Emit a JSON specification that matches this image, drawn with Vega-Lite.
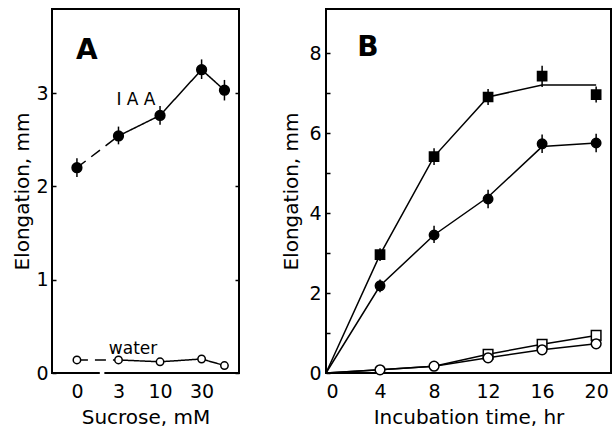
{
  "$schema": "https://vega.github.io/schema/vega-lite/v6.json",
  "padding": {"left": 11, "top": 8, "right": 0, "bottom": 0},
  "background": "white",
  "spacing": 87,
  "bounds": "flush",
  "resolve": {"scale": {"fill": "independent", "shape": "independent", "size": "independent", "strokeDash": "independent"}},
  "config": {
    "view": {"stroke": "black", "strokeWidth": 2},
    "font": "DejaVu Sans",
    "axis": {
      "domain": false,
      "grid": false,
      "labelFont": "DejaVu Sans",
      "labelFontSize": 19,
      "labelColor": "black",
      "titleFont": "DejaVu Sans",
      "titleFontSize": 20,
      "titleFontWeight": "normal",
      "titleColor": "black",
      "tickColor": "black",
      "tickWidth": 1.5
    }
  },
  "datasets": {
    "a_pts": [
      {"series": "IAA", "pos": 0, "conc": "0", "y": 2.2, "lo": 2.1, "hi": 2.3},
      {"series": "IAA", "pos": 1, "conc": "3", "y": 2.54, "lo": 2.45, "hi": 2.64},
      {"series": "IAA", "pos": 2, "conc": "10", "y": 2.76, "lo": 2.66, "hi": 2.86},
      {"series": "IAA", "pos": 3, "conc": "30", "y": 3.25, "lo": 3.15, "hi": 3.36},
      {"series": "IAA", "pos": 3.55, "conc": "100", "y": 3.03, "lo": 2.92, "hi": 3.14},
      {"series": "water", "pos": 0, "conc": "0", "y": 0.14},
      {"series": "water", "pos": 1, "conc": "3", "y": 0.14},
      {"series": "water", "pos": 2, "conc": "10", "y": 0.12},
      {"series": "water", "pos": 3, "conc": "30", "y": 0.15},
      {"series": "water", "pos": 3.55, "conc": "100", "y": 0.08}
    ],
    "a_lines": [
      {"series": "IAA", "style": "dashed", "pos": 0, "y": 2.2},
      {"series": "IAA", "style": "dashed", "pos": 1, "y": 2.54},
      {"series": "IAA", "style": "solid", "pos": 1, "y": 2.54},
      {"series": "IAA", "style": "solid", "pos": 2, "y": 2.76},
      {"series": "IAA", "style": "solid", "pos": 3, "y": 3.25},
      {"series": "IAA", "style": "solid", "pos": 3.55, "y": 3.03},
      {"series": "water", "style": "dashed", "pos": 0, "y": 0.14},
      {"series": "water", "style": "dashed", "pos": 1, "y": 0.14},
      {"series": "water", "style": "solid", "pos": 1, "y": 0.14},
      {"series": "water", "style": "solid", "pos": 2, "y": 0.12},
      {"series": "water", "style": "solid", "pos": 3, "y": 0.15},
      {"series": "water", "style": "solid", "pos": 3.55, "y": 0.08}
    ],
    "a_break": [
      {"x1": 0.55, "x2": 0.66, "y": 0}
    ],
    "a_panel": [
      {"label": "A", "x": 0.24, "y": 3.45}
    ],
    "a_series": [
      {"label": "I A A", "x": 1.42, "y": 2.92},
      {"label": "water", "x": 1.35, "y": 0.26}
    ],
    "b_pts": [
      {"series": "sq_filled", "t": 4, "y": 2.96, "lo": 2.8, "hi": 3.12},
      {"series": "sq_filled", "t": 8, "y": 5.41, "lo": 5.2, "hi": 5.62},
      {"series": "sq_filled", "t": 12, "y": 6.9, "lo": 6.7, "hi": 7.1},
      {"series": "sq_filled", "t": 16, "y": 7.42, "lo": 7.15, "hi": 7.68},
      {"series": "sq_filled", "t": 20, "y": 6.96, "lo": 6.76, "hi": 7.16},
      {"series": "ci_filled", "t": 4, "y": 2.18, "lo": 2.02, "hi": 2.34},
      {"series": "ci_filled", "t": 8, "y": 3.45, "lo": 3.25, "hi": 3.68},
      {"series": "ci_filled", "t": 12, "y": 4.35, "lo": 4.12, "hi": 4.58},
      {"series": "ci_filled", "t": 16, "y": 5.73, "lo": 5.5, "hi": 5.96},
      {"series": "ci_filled", "t": 20, "y": 5.75, "lo": 5.52, "hi": 5.98},
      {"series": "sq_open", "t": 12, "y": 0.47},
      {"series": "sq_open", "t": 16, "y": 0.72},
      {"series": "sq_open", "t": 20, "y": 0.94},
      {"series": "ci_open", "t": 4, "y": 0.08},
      {"series": "ci_open", "t": 8, "y": 0.17},
      {"series": "ci_open", "t": 12, "y": 0.38},
      {"series": "ci_open", "t": 16, "y": 0.58},
      {"series": "ci_open", "t": 20, "y": 0.73}
    ],
    "b_lines": [
      {"series": "sq_filled", "t": 0, "y": 0},
      {"series": "sq_filled", "t": 4, "y": 2.96},
      {"series": "sq_filled", "t": 8, "y": 5.41},
      {"series": "sq_filled", "t": 12, "y": 6.9},
      {"series": "sq_filled", "t": 16, "y": 7.2},
      {"series": "sq_filled", "t": 20, "y": 7.2},
      {"series": "ci_filled", "t": 0, "y": 0},
      {"series": "ci_filled", "t": 4, "y": 2.18},
      {"series": "ci_filled", "t": 8, "y": 3.45},
      {"series": "ci_filled", "t": 12, "y": 4.4},
      {"series": "ci_filled", "t": 16, "y": 5.66},
      {"series": "ci_filled", "t": 20, "y": 5.75},
      {"series": "sq_open", "t": 0, "y": 0},
      {"series": "sq_open", "t": 4, "y": 0.08},
      {"series": "sq_open", "t": 8, "y": 0.17},
      {"series": "sq_open", "t": 12, "y": 0.47},
      {"series": "sq_open", "t": 16, "y": 0.72},
      {"series": "sq_open", "t": 20, "y": 0.94},
      {"series": "ci_open", "t": 0, "y": 0},
      {"series": "ci_open", "t": 4, "y": 0.08},
      {"series": "ci_open", "t": 8, "y": 0.17},
      {"series": "ci_open", "t": 12, "y": 0.38},
      {"series": "ci_open", "t": 16, "y": 0.58},
      {"series": "ci_open", "t": 20, "y": 0.73}
    ],
    "b_text": [
      {"label": "B", "x": 3.1, "y": 8.12}
    ]
  },
  "hconcat": [
    {
      "width": 187,
      "height": 364,
      "resolve": {"axis": {"y": "independent"}},
      "layer": [
        {
          "data": {"name": "a_lines"},
          "mark": {"type": "line", "color": "black", "strokeWidth": 1.5},
          "encoding": {
            "x": {"field": "pos", "type": "quantitative",
                  "scale": {"domain": [-0.6, 3.9], "nice": false, "zero": false},
                  "axis": {"title": "Sucrose, mM", "values": [0, 1, 2, 3], "ticks": false, "labelPadding": 9, "titlePadding": 6,
                           "labelExpr": "datum.value == 0 ? '0' : datum.value == 1 ? '3' : datum.value == 2 ? '10' : '30'"}},
            "y": {"field": "y", "type": "quantitative",
                  "scale": {"domain": [0, 3.9], "nice": false},
                  "axis": {"title": "Elongation, mm", "values": [0, 1, 2, 3], "tickSize": -4, "labelPadding": 8, "titlePadding": 3}},
            "detail": {"field": "series"},
            "strokeDash": {"field": "style", "type": "nominal",
                           "scale": {"domain": ["solid", "dashed"], "range": [[1, 0], [11, 7]]}, "legend": null}
          }
        },
        {
          "data": {"name": "a_break"},
          "mark": {"type": "rule", "color": "white", "strokeWidth": 5},
          "encoding": {
            "x": {"field": "x1", "type": "quantitative"},
            "x2": {"field": "x2"},
            "y": {"field": "y", "type": "quantitative", "axis": null}
          }
        },
        {
          "data": {"name": "a_pts"},
          "transform": [{"filter": "datum.series == 'IAA'"}],
          "mark": {"type": "rule", "color": "black", "strokeWidth": 1.5},
          "encoding": {
            "x": {"field": "pos", "type": "quantitative"},
            "y": {"field": "lo", "type": "quantitative", "axis": {"orient": "right", "values": [0, 1, 2, 3], "tickSize": -4, "labels": false, "title": null}},
            "y2": {"field": "hi"}
          }
        },
        {
          "data": {"name": "a_pts"},
          "mark": {"type": "point", "filled": true, "stroke": "black", "strokeWidth": 1.5, "opacity": 1},
          "encoding": {
            "x": {"field": "pos", "type": "quantitative"},
            "y": {"field": "y", "type": "quantitative", "axis": null},
            "shape": {"value": "circle"},
            "fill": {"field": "series", "type": "nominal", "scale": {"domain": ["IAA", "water"], "range": ["black", "white"]}, "legend": null},
            "size": {"field": "series", "type": "nominal", "scale": {"domain": ["IAA", "water"], "range": [95, 55]}, "legend": null}
          }
        },
        {
          "data": {"name": "a_panel"},
          "mark": {"type": "text", "color": "black", "font": "DejaVu Sans", "fontSize": 28, "fontWeight": "bold"},
          "encoding": {
            "x": {"field": "x", "type": "quantitative"},
            "y": {"field": "y", "type": "quantitative", "axis": null},
            "text": {"field": "label"}
          }
        },
        {
          "data": {"name": "a_series"},
          "mark": {"type": "text", "color": "black", "font": "DejaVu Sans", "fontSize": 17},
          "encoding": {
            "x": {"field": "x", "type": "quantitative"},
            "y": {"field": "y", "type": "quantitative", "axis": null},
            "text": {"field": "label"}
          }
        }
      ]
    },
    {
      "width": 285,
      "height": 364,
      "layer": [
        {
          "data": {"name": "b_lines"},
          "mark": {"type": "line", "color": "black", "strokeWidth": 1.5},
          "encoding": {
            "x": {"field": "t", "type": "quantitative",
                  "scale": {"domain": [0, 21.1], "nice": false},
                  "axis": {"title": "Incubation time, hr", "values": [0, 4, 8, 12, 16, 20], "ticks": false, "labelPadding": 9, "titlePadding": 6}},
            "y": {"field": "y", "type": "quantitative",
                  "scale": {"domain": [0, 9.1], "nice": false},
                  "axis": {"title": "Elongation, mm", "values": [0, 1, 2, 3, 4, 5, 6, 7, 8], "tickSize": -4, "labelPadding": 9, "titlePadding": 7,
                           "labelExpr": "datum.value % 2 == 0 ? datum.label : ''"}},
            "detail": {"field": "series"}
          }
        },
        {
          "data": {"name": "b_pts"},
          "transform": [{"filter": "isValid(datum.lo)"}],
          "mark": {"type": "rule", "color": "black", "strokeWidth": 1.5},
          "encoding": {
            "x": {"field": "t", "type": "quantitative"},
            "y": {"field": "lo", "type": "quantitative"},
            "y2": {"field": "hi"}
          }
        },
        {
          "data": {"name": "b_pts"},
          "mark": {"type": "point", "filled": true, "stroke": "black", "strokeWidth": 1.5, "opacity": 1},
          "encoding": {
            "x": {"field": "t", "type": "quantitative"},
            "y": {"field": "y", "type": "quantitative"},
            "shape": {"field": "series", "type": "nominal", "scale": {"domain": ["sq_filled", "ci_filled", "sq_open", "ci_open"], "range": ["square", "circle", "square", "circle"]}, "legend": null},
            "fill": {"field": "series", "type": "nominal", "scale": {"domain": ["sq_filled", "ci_filled", "sq_open", "ci_open"], "range": ["black", "black", "white", "white"]}, "legend": null},
            "size": {"field": "series", "type": "nominal", "scale": {"domain": ["sq_filled", "ci_filled", "sq_open", "ci_open"], "range": [85, 95, 45, 55]}, "legend": null}
          }
        },
        {
          "data": {"name": "b_text"},
          "mark": {"type": "text", "color": "black", "font": "DejaVu Sans", "fontSize": 28, "fontWeight": "bold"},
          "encoding": {
            "x": {"field": "x", "type": "quantitative"},
            "y": {"field": "y", "type": "quantitative"},
            "text": {"field": "label"}
          }
        }
      ]
    }
  ]
}
